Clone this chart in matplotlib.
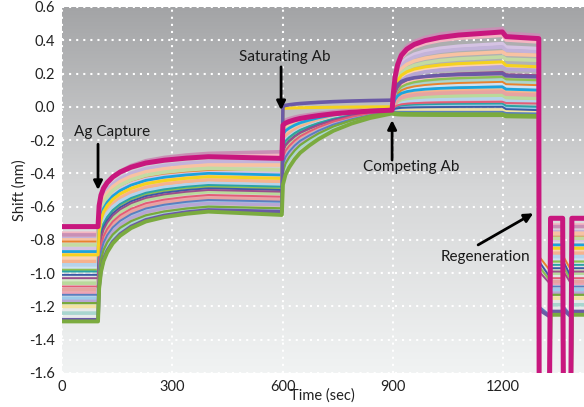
import numpy as np
import matplotlib
matplotlib.use("Agg")
import matplotlib.pyplot as plt
from matplotlib.colors import LinearSegmentedColormap

plt.rcParams['font.family'] = ['Lato', 'DejaVu Sans']

# ---------------- data ----------------
# phase boundaries (sec)
T_CAPTURE = 98       # Ag capture injection
T_SATURATE = 598     # saturating Ab injection
T_COMPETE = 898      # competing Ab injection
T_DISSOC = 1198      # end of competing association
T_REGEN = 1297       # start of regeneration
REGEN_EDGES = [1298, 1326, 1329, 1362, 1364, 1384, 1387, 1425]

# shared association shapes (fraction of rise vs seconds after injection)
CAP_OFF = [0, 3, 8, 15, 25, 40, 60, 90, 130, 180, 240, 300]
CAP_FRAC = [0, 0.30, 0.45, 0.55, 0.63, 0.71, 0.78, 0.85, 0.91, 0.95, 0.98, 1.0]
SAT_OFF = [0, 3, 10, 20, 35, 50, 75, 100, 140, 190, 240, 300]
SAT_FRAC = [0, 0.22, 0.33, 0.41, 0.50, 0.57, 0.65, 0.72, 0.81, 0.89, 0.95, 1.0]
COMP_OFF = [0, 3, 8, 15, 25, 40, 60, 90, 130, 180, 240, 300]
COMP_FRAC = [0, 0.20, 0.42, 0.58, 0.70, 0.78, 0.84, 0.89, 0.93, 0.96, 0.98, 1.0]

# per-trace levels (nm)
BASELINE = [-0.76, -0.85, -0.91, -0.97, -1.04, -1.12, -1.20, -1.24, -0.88,
            -0.79, -0.77, -0.80, -0.81, -0.83, -0.93, -0.95, -0.98, -1.06, -1.10,
            -1.15, -1.17, -0.99, -1.01, -1.03, -1.08, -1.13, -1.18, -0.87, -0.89,
            -1.28, -1.29, -0.72]
CAP_400 = [-0.29, -0.39, -0.42, -0.45, -0.50, -0.54, -0.58, -0.60, -0.41,
           -0.33, -0.28, -0.35, -0.38, -0.37, -0.44, -0.46, -0.48, -0.51, -0.55,
           -0.57, -0.58, -0.47, -0.49, -0.50, -0.53, -0.56, -0.60, -0.40, -0.42,
           -0.62, -0.63, -0.30]
CAP_600 = [-0.29, -0.40, -0.43, -0.46, -0.51, -0.55, -0.60, -0.62, -0.42,
           -0.33, -0.27, -0.35, -0.38, -0.38, -0.45, -0.47, -0.49, -0.52, -0.56,
           -0.58, -0.59, -0.48, -0.50, -0.51, -0.54, -0.57, -0.61, -0.41, -0.43,
           -0.63, -0.65, -0.31]
SAT_JUMP = [0.55, 0.45, 0.45, 0.40, 0.35, 0.30, 0.25, 0.20, 0.45,
            0.55, 0.60, 0.50, 0.50, 0.50, 0.45, 0.40, 0.40, 0.30, 0.30,
            0.25, 0.25, 0.40, 0.35, 0.35, 0.30, 0.25, 0.20, 0.50, 0.97,
            0.93, 0.10, 0.60]
SAT_900 = [-0.02, -0.02, -0.02, -0.02, -0.03, -0.03, -0.03, -0.04, -0.02,
           -0.02, -0.01, -0.01, -0.02, -0.02, -0.02, -0.02, -0.02, -0.02, -0.03,
           -0.03, -0.03, -0.02, -0.02, -0.02, -0.02, -0.03, -0.03, -0.01, 0.00,
           0.04, -0.04, -0.02]
COMP_1200 = [0.43, 0.38, 0.26, 0.14, 0.11, 0.04, -0.02, 0.16, 0.20,
             0.36, 0.47, 0.33, 0.15, 0.30, 0.10, 0.05, 0.18, 0.07, 0.09,
             0.01, 0.24, 0.02, 0.00, 0.21, 0.03, -0.03, -0.04, 0.12, 0.27,
             0.20, -0.05, 0.45]
COMP_1295 = [0.39, 0.35, 0.23, 0.12, 0.09, 0.03, -0.03, 0.14, 0.18,
              0.33, 0.43, 0.31, 0.13, 0.28, 0.08, 0.03, 0.16, 0.05, 0.07,
              -0.01, 0.22, 0.00, -0.02, 0.19, 0.02, -0.04, -0.05, 0.10, 0.24,
              0.18, -0.06, 0.41]
REGEN_LEVEL = [-0.71, -0.80, -0.86, -0.92, -0.98, -1.06, -1.15, -1.19, -0.83,
               -0.75, -0.72, -0.76, -0.78, -0.79, -0.88, -0.90, -0.93, -1.00, -1.05,
               -1.10, -1.12, -0.95, -0.97, -0.99, -1.03, -1.08, -1.13, -0.83, -0.85,
               -1.23, -1.25, -0.67]
TROUGH_START = [None, None, None, None, None, None, None, None, None,
                None, None, None, -0.90, None, None, None, -0.96, None, None,
                None, None, None, -0.93, -0.99, None, -1.20, None, None, None,
                -1.22, None, None]
TROUGH_END = [None, None, None, None, None, None, None, None, None,
              None, None, None, -0.98, None, None, None, -1.04, None, None,
              None, None, None, -1.02, -1.06, None, -1.25, None, None, None,
              -1.26, None, None]

# styles
COLORS = ['#f4b6c2', '#d5c3e3', '#fbd2b2', '#cfe2f3', '#d8e9c6', '#eea3b6', '#f3e3a2',
          '#a9d6cf', '#f6c1b8',
          '#c3b3da', '#c98fb5', '#f8c2a2', '#e8822e', '#c3dba3', '#f6b28e', '#b5d3ec',
          '#8cc152', '#b9d99b', '#e7a3a1', '#9ccbe9', '#b7a6d4', '#2aa3a5', '#3b5ba6',
          '#9b4d8c', '#e35d76', '#5a7fc0', '#78a93c', '#1ba3dd', '#f5d21f',
          '#6b5aa6', '#7bab3f', '#c8177e']
WIDTHS = [2.6] * 9 + [2.6, 2.6, 2.6, 1.4, 2.6, 2.6, 2.6, 1.6, 2.6, 2.6, 2.6, 2.6, 1.4, 1.4,
                      1.4, 1.4, 1.4, 1.6, 2.0, 2.2, 2.6, 2.8, 3.6]

OFF_SCALE = -1.8


def build_trace(i):
    t, y = [0, T_CAPTURE], [BASELINE[i], BASELINE[i]]
    s, e = BASELINE[i], CAP_400[i]
    for o, f in zip(CAP_OFF[1:], CAP_FRAC[1:]):
        t.append(T_CAPTURE + o)
        y.append(s + (e - s) * f)
    t.append(T_SATURATE); y.append(CAP_600[i])
    s, e, j = CAP_600[i], SAT_900[i], SAT_JUMP[i]
    for o, f in zip(SAT_OFF[1:], SAT_FRAC[1:]):
        t.append(T_SATURATE + o)
        y.append(s + (e - s) * (j + (1 - j) * f))
    s, e = SAT_900[i], COMP_1200[i]
    for o, f in zip(COMP_OFF[1:], COMP_FRAC[1:]):
        t.append(T_COMPETE + o)
        y.append(s + (e - s) * f)
    t += [T_DISSOC + 10, T_REGEN]
    y += [COMP_1295[i] + 0.3 * (COMP_1200[i] - COMP_1295[i]), COMP_1295[i]]
    a = TROUGH_START[i] if TROUGH_START[i] is not None else OFF_SCALE
    b = TROUGH_END[i] if TROUGH_END[i] is not None else OFF_SCALE
    r = REGEN_LEVEL[i]
    t += REGEN_EDGES
    y += [a, b, r, r, a, b, r, r]
    return t, y


fig = plt.figure(figsize=(5.84, 4.07), dpi=100)
ax = fig.add_axes([62 / 584, 1 - 373 / 407, 1 - 62 / 584, 366 / 407])

# gradient background
cmap = LinearSegmentedColormap.from_list('bg', ['#f1f3f3', '#d6d7d8', '#a3a4a6'])
grad = np.linspace(0, 1, 256).reshape(-1, 1)
ax.imshow(grad, extent=[0, 1, 0, 1], transform=ax.transAxes, aspect='auto',
          cmap=cmap, origin='lower', zorder=0)

for i in range(len(COLORS)):
    tt, yy = build_trace(i)
    ax.plot(tt, yy, color=COLORS[i], lw=WIDTHS[i], zorder=2 + i * 0.01,
            solid_joinstyle='round')

ax.set_xlim(0, 1420)
ax.set_ylim(-1.6, 0.6)

yt = [round(v, 1) + 0.0 for v in np.arange(-1.6, 0.61, 0.2)]
ax.set_yticks(yt)
ax.set_yticklabels([f"{abs(v):.1f}" if abs(v) < 0.05 else f"{v:.1f}" for v in yt])
ax.set_xticks([0, 300, 600, 900, 1200])
ax.set_xticklabels(['0', '300', '600', '900', '1200'])
ax.tick_params(length=0, pad=5, labelsize=10.5, colors='#222222')
for sp in ax.spines.values():
    sp.set_visible(False)
ax.grid(True, color='white', linestyle=(0, (1, 2.4)), lw=1.5)
ax.set_axisbelow(True)

fig.text(322 / 584, 1 - 396 / 407, 'Time (sec)', ha='center', va='center',
         fontsize=10.5, color='#222222')
fig.text(20 / 584, 1 - 190 / 407, 'Shift (nm)', ha='center', va='center', rotation=90,
         fontsize=10.5, color='#222222')

arrow = dict(arrowstyle='-|>', color='black', lw=2, mutation_scale=13, shrinkA=0, shrinkB=0)
fs = 11
ax.annotate('', xy=(98, -0.50), xytext=(98, -0.225), arrowprops=arrow, zorder=5)
ax.text(136, -0.15, 'Ag Capture', ha='center', va='center', fontsize=fs, color='#1a1a1a')
ax.annotate('', xy=(596, -0.02), xytext=(596, 0.24), arrowprops=arrow, zorder=5)
ax.text(607, 0.30, 'Saturating Ab', ha='center', va='center', fontsize=fs, color='#1a1a1a')
ax.annotate('', xy=(898, -0.08), xytext=(898, -0.32), arrowprops=arrow, zorder=5)
ax.text(950, -0.36, 'Competing Ab', ha='center', va='center', fontsize=fs, color='#1a1a1a')
ax.annotate('', xy=(1282, -0.64), xytext=(1132, -0.83), arrowprops=arrow, zorder=5)
ax.text(1151, -0.905, 'Regeneration', ha='center', va='center', fontsize=fs, color='#1a1a1a')

fig.savefig('out.png', dpi=100)
